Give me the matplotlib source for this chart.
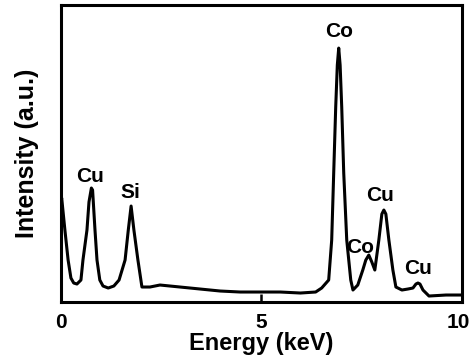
import matplotlib
matplotlib.use('Agg')
import matplotlib.pyplot as plt
import matplotlib.transforms as mtransforms

# EDS spectrum
energy = [0.01, 0.02, 0.10, 0.18, 0.25, 0.32, 0.40, 0.50, 0.55, 0.65, 0.70, 0.76, 0.79, 0.85,
          0.90, 0.97, 1.05, 1.18, 1.32, 1.45, 1.60, 1.68, 1.75, 1.82, 1.92, 2.02, 2.22, 2.47,
          2.72, 2.97, 3.47, 3.97, 4.47, 4.97, 5.47, 5.97, 6.35, 6.50, 6.675, 6.75, 6.80, 6.85,
          6.89, 6.925, 6.96, 7.00, 7.05, 7.125, 7.225, 7.28, 7.40, 7.525, 7.60, 7.675, 7.75,
          7.825, 7.925, 8.00, 8.05, 8.10, 8.175, 8.275, 8.35, 8.50, 8.65, 8.775, 8.85, 8.90,
          8.95, 9.025, 9.175, 9.60, 9.97]
intensity = [102, 104, 72, 42, 24, 19, 18, 22, 42, 72, 100, 114, 112, 72,
             42, 22, 16, 14, 16, 22, 42, 72, 96, 72, 42, 15, 15, 17,
             16, 15, 13, 11, 10, 10, 10, 9, 10, 14, 22, 62, 129, 195,
             237, 254, 237, 195, 129, 62, 22, 12, 17, 32, 42, 47, 40,
             32, 62, 88, 92, 88, 62, 32, 15, 12, 13, 14, 18, 19,
             18, 12, 6, 7, 7]

peak_labels = ['Cu', 'Si', 'Co', 'Cu', 'Co', 'Cu']
peak_x = [0.72, 1.72, 6.93, 7.95, 7.45, 8.9]
peak_y = [116, 100, 261, 97, 45, 24]

plt.rcParams['font.family'] = ['Liberation Sans', 'DejaVu Sans']
plt.rcParams['font.weight'] = 'bold'

fig = plt.figure(figsize=(4.72, 3.63), dpi=100)
ax = fig.add_axes([0.129, 0.168, 0.850, 0.818])
ax.plot(energy, intensity, color='black', lw=2.2)

for lab, px, py in zip(peak_labels, peak_x, peak_y):
    ax.text(px, py, lab, ha='center', va='bottom', fontsize=15, fontweight='bold')

ax.set_xlim(0, 10)
ax.set_ylim(0, 297)
ax.set_xticks([0, 5, 10])
ax.set_xticklabels(['0', '5', '10'])
ax.set_yticks([])
ax.tick_params(axis='x', direction='in', length=6, width=1.8, pad=8, labelsize=15)
for s in ax.spines.values():
    s.set_linewidth(2.2)

# nudge "10" a little left so it stays inside the canvas
last = ax.get_xticklabels()[-1]
last.set_transform(last.get_transform() +
                   mtransforms.ScaledTranslation(-4 / 100, 0, fig.dpi_scale_trans))

ax.set_xlabel('Energy (keV)', fontsize=17, fontweight='bold', labelpad=0)
ax.set_ylabel('Intensity (a.u.)', fontsize=18, fontweight='bold', labelpad=16)

fig.savefig('out.png', dpi=100)
